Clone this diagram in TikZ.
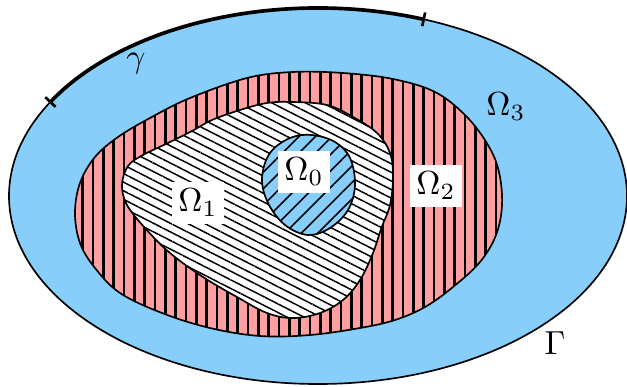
\documentclass[tikz,border=0pt]{standalone}
\usetikzlibrary{patterns.meta}
\definecolor{skyb}{RGB}{135,206,250}
\definecolor{pinkr}{RGB}{255,160,160}
\begin{document}
\begin{tikzpicture}[x=0.3pt,y=0.3pt,
  outline/.style={draw=black, line width=0.5pt},
  lbl/.style={inner sep=2pt},
  boxlbl/.style={lbl, fill=white}]
\useasboundingbox (0,0) rectangle (627,-386);
% outer domain
\draw[outline, fill=skyb] (318,-196) ellipse [x radius=309, y radius=188];
% gamma arc
\draw[line width=1.1pt] (318,-196) ++(70:309 and 188) arc[start angle=70, end angle=150, x radius=309, y radius=188];
\coordinate (t1a) at (422.2,-26.1);
\coordinate (t1b) at (425.2,-12.5);
\coordinate (t2a) at (55.5,-106.8);
\coordinate (t2b) at (45.3,-97.2);
\draw[line width=0.8pt] (t1a) -- (t1b);
\draw[line width=0.8pt] (t2a) -- (t2b);
% Omega_2 region
\draw[outline, preaction={fill=pinkr}, pattern={Lines[angle=90, distance=3.1pt, line width=0.85pt]}, pattern color=black]
  plot[smooth cycle, tension=0.6] coordinates {(293,-72) (343,-73) (393,-79) (435,-92) (466,-116) (488,-145) (499,-172) (502,-205) (496,-235) (480,-262) (453,-287) (425,-307) (395,-320) (360,-328) (310,-335) (260,-336) (210,-328) (162,-313) (120,-293) (95,-268) (80,-243) (75,-213) (80,-183) (95,-157) (118,-137) (150,-118) (190,-98) (247,-78)};
% Omega_1 region
\draw[outline, preaction={fill=white}, pattern={Lines[angle=-27, distance=2.3pt, line width=0.45pt]}, pattern color=black]
  plot[smooth cycle, tension=0.6] coordinates {(293,-102) (327,-105) (353,-117) (377,-133) (390,-153) (393,-177) (390,-205) (381,-229) (373,-253) (360,-280) (343,-300) (320,-313) (293,-318) (267,-313) (237,-297) (203,-277) (170,-253) (145,-228) (127,-205) (122,-185) (128,-166) (143,-155) (168,-143) (192,-131) (212,-120) (240,-110) (267,-103)};
% Omega_0 region
\draw[outline, preaction={fill=skyb}, pattern={Lines[angle=45, distance=3.5pt, line width=0.45pt]}, pattern color=black]
  plot[smooth cycle, tension=0.6] coordinates {(262,-178) (270,-153) (290,-138) (312,-135) (335,-142) (350,-158) (355,-185) (348,-210) (330,-228) (308,-235) (285,-225) (268,-203)};
% labels
\node[boxlbl] (o0) at (304,-172) {$\Omega_0$};
\node[boxlbl] (o1) at (198,-203) {$\Omega_1$};
\node[boxlbl] (o2) at (436,-186) {$\Omega_2$};
\node[lbl] (o3) at (506,-107) {$\Omega_3$};
\node[lbl] (gG) at (555,-343) {$\Gamma$};
\node[lbl] (gg) at (136,-64) {$\gamma$};
\end{tikzpicture}
\end{document}
